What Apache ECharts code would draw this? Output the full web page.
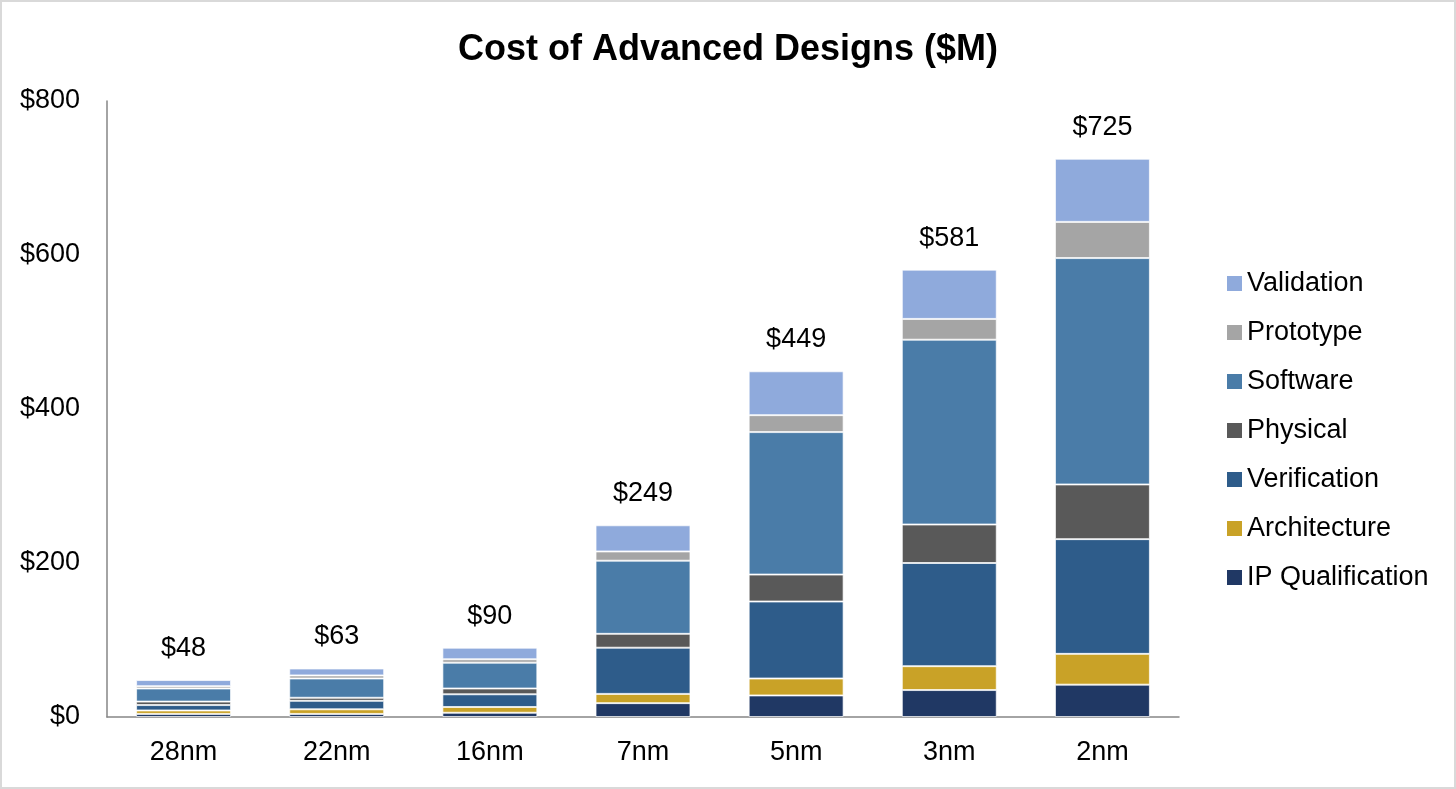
<!DOCTYPE html>
<html>
<head>
<meta charset="utf-8">
<script src="https://cdn.jsdelivr.net/npm/echarts@6/dist/echarts.min.js"></script>
<style>
  html, body { margin: 0; padding: 0; background: #fff; }
  #main { width: 1456px; height: 789px; box-sizing: border-box; border: 2px solid #d9d9d9; }
</style>
</head>
<body>
<div id="main"></div>
<script>
// 数据
const nodes = ['28nm', '22nm', '16nm', '7nm', '5nm', '3nm', '2nm'];
const ipQualification = [4, 4, 5.5, 18, 28, 35, 42];
const architecture = [4.5, 6, 7.5, 12, 22, 31, 40];
const verification = [7, 11, 16.5, 60, 100, 134, 149];
const physical = [4.5, 4, 7.5, 18, 35, 50, 71];
const software = [17, 25, 33.5, 95, 185, 240, 294];
const prototype = [3, 4, 4.5, 12, 22, 27, 47];
const validation = [8, 9, 15, 34, 57, 64, 82];
const totals = [48, 63, 90, 249, 449, 581, 725];

const font = 'Liberation Sans, Arial, sans-serif';

function seg(name, data, color) {
  return {
    name: name,
    type: 'bar',
    stack: 'cost',
    barWidth: '62%',
    data: data,
    itemStyle: { color: color, borderColor: 'rgba(255,255,255,0.7)', borderWidth: 1 }
  };
}

const series = [
  seg('IP Qualification', ipQualification, '#203864'),
  seg('Architecture', architecture, '#C9A227'),
  seg('Verification', verification, '#2E5C8A'),
  seg('Physical', physical, '#595959'),
  seg('Software', software, '#4A7CA8'),
  seg('Prototype', prototype, '#A5A5A5'),
  seg('Validation', validation, '#8FAADC')
];
// 总额标签放在最上层
series[6].label = {
  show: true,
  position: 'top',
  distance: 18,
  fontFamily: font,
  fontSize: 27,
  color: '#000',
  formatter: function (p) { return '$' + totals[p.dataIndex]; }
};

var myChart = echarts.init(document.getElementById('main'));
myChart.setOption({
  animation: false,
  title: {
    text: 'Cost of Advanced Designs ($M)',
    left: 'center',
    top: 25,
    textStyle: { fontFamily: font, fontSize: 36, fontWeight: 'bold', color: '#000' }
  },
  legend: {
    orient: 'vertical',
    left: 1220,
    top: 263,
    itemWidth: 15,
    itemHeight: 15,
    itemGap: 22,
    itemStyle: { borderWidth: 0 },
    icon: 'rect',
    data: ['Validation', 'Prototype', 'Software', 'Physical', 'Verification', 'Architecture', 'IP Qualification'],
    textStyle: { fontFamily: font, fontSize: 27, color: '#000' }
  },
  grid: { left: 105, right: 275, top: 99, bottom: 70 },
  xAxis: {
    type: 'category',
    data: nodes,
    axisLine: { lineStyle: { color: '#868686', width: 1.5 } },
    axisTick: { show: false },
    axisLabel: { fontFamily: font, fontSize: 27, color: '#000', margin: 22 }
  },
  yAxis: {
    type: 'value',
    min: 0,
    max: 800,
    interval: 200,
    splitLine: { show: false },
    axisLine: { show: true, lineStyle: { color: '#868686', width: 1.5 } },
    axisLabel: {
      fontFamily: font, fontSize: 27, color: '#000', margin: 27,
      formatter: function (v) { return '$' + v; }
    }
  },
  series: series
});
</script>
</body>
</html>
